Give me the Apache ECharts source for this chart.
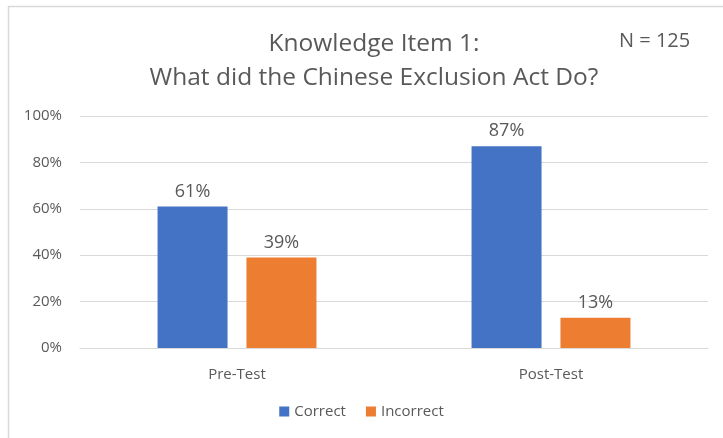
<!DOCTYPE html>
<html>
<head>
<meta charset="utf-8">
<script src="https://cdn.jsdelivr.net/npm/echarts@6/dist/echarts.min.js"></script>
<style>
  html, body { margin: 0; padding: 0; background: #fff; }
  #chart { width: 723px; height: 438px; }
</style>
</head>
<body>
<div id="chart"></div>
<script>
// Survey results for knowledge item 1
const categories = ['Pre-Test', 'Post-Test'];
const correct = [61, 87];
const incorrect = [39, 13];
const yTicks = [0, 20, 40, 60, 80, 100];

const textColor = '#595959';
const font = '"Open Sans", "Noto Sans", sans-serif';

const chart = echarts.init(document.getElementById('chart'), null, { renderer: 'canvas' });

const valueLabel = {
  show: true, position: 'top', distance: 6,
  formatter: p => p.value + '%',
  fontFamily: font, fontSize: 18, color: textColor
};

chart.setOption({
  backgroundColor: '#ffffff',
  animation: false,
  textStyle: { fontFamily: font, color: textColor },
  title: [
    {
      text: 'Knowledge Item 1:\nWhat did the Chinese Exclusion Act Do?',
      left: 369, top: 22, textAlign: 'center',
      textStyle: { fontFamily: font, fontSize: 24.5, fontWeight: 'normal', color: textColor, lineHeight: 34 }
    },
    {
      text: 'N = 125',
      left: 614, top: 26,
      textStyle: { fontFamily: font, fontSize: 20, fontWeight: 'normal', color: textColor }
    }
  ],
  graphic: [{
    type: 'rect',
    shape: { x: 8.5, y: 6.5, width: 740, height: 460 },
    style: { fill: 'none', stroke: '#d9d9d9', lineWidth: 1.5 },
    silent: true
  }],
  legend: {
    bottom: 14, left: 'center',
    itemWidth: 10, itemHeight: 10, itemGap: 20,
    icon: 'rect',
    textStyle: { fontFamily: font, fontSize: 15, color: textColor },
    data: ['Correct', 'Incorrect']
  },
  grid: { left: 80, right: 15, top: 116, bottom: 90 },
  xAxis: {
    type: 'category',
    data: categories,
    axisLine: { show: true, lineStyle: { color: '#d9d9d9' } },
    axisTick: { show: false },
    axisLabel: { fontFamily: font, fontSize: 15, color: textColor, margin: 19 }
  },
  yAxis: {
    type: 'value',
    min: yTicks[0], max: yTicks[yTicks.length - 1], interval: 20,
    axisLine: { show: false },
    axisTick: { show: false },
    splitLine: { lineStyle: { color: '#d9d9d9', width: 1 } },
    axisLabel: { fontFamily: font, fontSize: 15, color: textColor, margin: 18, formatter: v => v + '%' }
  },
  series: [
    {
      name: 'Correct', type: 'bar', data: correct,
      barWidth: 70, barGap: '27%',
      itemStyle: { color: '#4472C4' },
      label: valueLabel
    },
    {
      name: 'Incorrect', type: 'bar', data: incorrect,
      barWidth: 70, barGap: '27%',
      itemStyle: { color: '#ED7D31' },
      label: valueLabel
    }
  ]
});
</script>
</body>
</html>
